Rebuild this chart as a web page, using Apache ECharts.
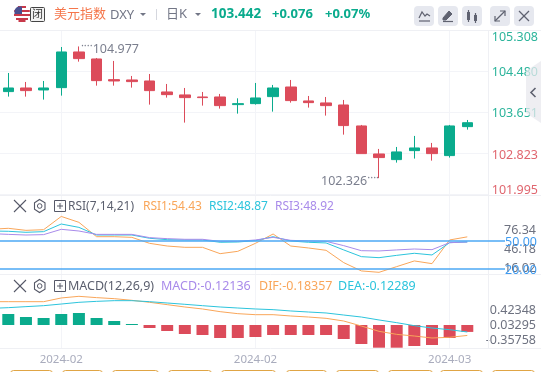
<!DOCTYPE html>
<html><head><meta charset="utf-8">
<style>html,body{margin:0;padding:0;background:#fff}#c{width:541px;height:372px}</style>
<script src="https://cdn.jsdelivr.net/npm/echarts@6/dist/echarts.min.js"></script>
</head><body><div id="c"></div>
<script>
const FONT='"Noto Sans","Noto Sans CJK SC",sans-serif';
const candleX=[0,1,2,3,4,5,6,7,8,9,10,11,12,13,14,15,16,17,18,19,20,21,22,23,24,25,26];
const open=[104.068,104.141,104.101,104.148,104.866,104.725,104.309,104.302,104.282,104.061,104.001,103.960,103.960,103.806,103.826,103.967,104.161,103.880,103.840,103.799,103.377,102.813,102.699,102.880,102.934,102.780,103.363];
const close=[104.141,104.088,104.141,104.866,104.732,104.289,104.282,104.269,104.088,104.007,103.947,103.947,103.786,103.826,103.940,104.141,103.887,103.846,103.786,103.384,102.820,102.740,102.854,102.934,102.820,103.377,103.442];
const low=[103.967,103.967,103.907,103.987,104.671,104.188,104.188,104.148,103.806,103.947,103.444,103.786,103.726,103.625,103.806,103.665,103.846,103.746,103.585,103.202,102.820,102.326,102.639,102.720,102.679,102.740,103.303];
const high=[104.443,104.262,104.282,104.966,104.977,104.745,104.685,104.383,104.423,104.222,104.141,104.061,104.021,103.933,104.242,104.202,104.302,103.980,103.960,103.900,103.397,102.914,102.954,103.176,103.035,103.397,103.497];
const priceTicks=[101.995,102.823,103.651,104.480,105.308];
const dateTickIdx=[3,14,25];
const dateTickLabels=['2024-02','2024-02','2024-03'];
// line arrays start one session before the first visible candle
const lineX=[-1,0,1,2,3,4,5,6,7,8,9,10,11,12,13,14,15,16,17,18,19,20,21,22,23,24,25,26];
const rsi1=[62.5,63.6,61.4,62.1,76.3,70.0,54.6,54.6,53.9,47.5,44.6,43.2,43.2,36.4,38.9,47.5,57.5,44.6,42.5,40.0,26.8,17.9,16.4,22.5,28.6,25.7,51.1,54.43];
const rsi2=[60.7,60.4,59.3,60.0,68.2,64.6,56.4,56.4,56.4,52.9,51.4,51.1,51.1,48.6,48.9,50.4,54.6,50,48.6,47.9,40.4,33.2,32.1,34.6,36.8,35,48.2,48.87];
const rsi3=[57.9,57.1,56.4,56.8,62.5,60.7,57.1,57.1,57.1,53.6,52.5,51.8,51.8,49.6,49.6,51.1,53.9,50.7,50,49.6,45,39.6,39.3,40.4,41.4,40.7,48.2,48.92];
const rsiLevels=[50,20];
const rsiTicks=[76.34,46.18,16.02];
const macdBar=[.193,.140,.123,.193,.211,.123,.070,.018,-.053,-.105,-.158,-.175,-.228,-.228,-.211,-.175,-.175,-.175,-.175,-.246,-.333,-.398,-.398,-.368,-.351,-.228,-.12136];
const dif=[.409,.409,.409,.409,.474,.503,.480,.462,.433,.398,.357,.316,.281,.234,.199,.181,.181,.158,.140,.117,.070,-.018,-.111,-.164,-.193,-.228,-.216,-.18357];
const dea=[.292,.304,.322,.339,.368,.398,.415,.427,.427,.409,.386,.363,.339,.316,.298,.281,.269,.246,.228,.211,.175,.140,.088,.041,-.012,-.053,-.082,-.12289];
const macdTicks=[.42348,.03295,-.35758];

const UP='#0AAB8D',DOWN='#DC4B5A',ORANGE='#F9A65A',CYAN='#2CC4DC',PURPLE='#A98BEA',BLUE='#4DA8F5',GRID='#F3F4F8',GRAY='#6E7280',ICON='#5F6270';
const XMIN=-0.47,XMAX=27.173,prevClose=103.366;
const zip=(a,b)=>a.map((v,i)=>[v,b[i]]);

const xAxisFor=(gridIndex,showLabels)=>({type:'value',gridIndex,min:XMIN,max:XMAX,
  axisLine:{show:false},axisTick:{show:false,customValues:dateTickIdx},
  splitLine:{show:true,lineStyle:{color:GRID,width:1}},
  axisLabel:{show:showLabels,customValues:dateTickIdx,margin:6,color:'#A9ACBD',fontSize:11.5,fontFamily:FONT,
    formatter:v=>dateTickLabels[dateTickIdx.indexOf(v)]}});
const labelY=(gridIndex,min,max,ticks,digits)=>({type:'value',gridIndex,position:'right',min,max,
  axisLine:{show:false},axisTick:{show:false},splitLine:{show:false},
  axisLabel:{customValues:ticks,inside:false,margin:48,align:'right',color:GRAY,fontSize:12.5,fontFamily:FONT,formatter:v=>v.toFixed(digits)}});

const dotLabel=(pos,offset,fmt)=>({position:pos,distance:0,offset,formatter:fmt,color:'#7B7F8E',fontSize:12.5,fontFamily:FONT,
  rich:{d:{color:'#7B7F8E',fontSize:11,padding:[0,0,6,0],fontFamily:FONT}}});

const RSI_MIN=14.6,RSI_MAX=99.3,MACD_MIN=-.4035,MACD_MAX=.8947;
const option={
  animation:false,backgroundColor:'#fff',
  grid:[
    {left:0,width:488,top:30,height:164.6},
    {left:0,width:488,top:195,height:79},
    {left:0,width:488,top:274,height:74},
    {left:0,width:505,top:195,height:79},
    {left:0,width:488,top:31.6,height:164.6}
  ],
  xAxis:[xAxisFor(0,false),xAxisFor(1,false),xAxisFor(2,true),
    {type:'value',gridIndex:3,min:0,max:1,show:false},
    {type:'value',gridIndex:4,min:0,max:1,show:false}],
  yAxis:[
    {type:'value',gridIndex:0,position:'right',min:priceTicks[0],max:priceTicks[4],
     axisLine:{show:false},axisTick:{show:false,customValues:priceTicks},
     splitLine:{show:true,lineStyle:{color:GRID}},
     axisLabel:{show:false,customValues:priceTicks}},
    {type:'value',gridIndex:1,min:RSI_MIN,max:RSI_MAX,show:false},
    labelY(1,7.13,132.5,rsiTicks,2),
    {type:'value',gridIndex:2,min:MACD_MIN,max:MACD_MAX,show:false},
    labelY(2,-.5608,1.366,macdTicks,5),
    {type:'value',gridIndex:3,min:RSI_MIN,max:RSI_MAX,show:false},
    {type:'value',gridIndex:4,position:'right',min:priceTicks[0],max:priceTicks[4],
     axisLine:{show:false},axisTick:{show:false},splitLine:{show:false},
     axisLabel:{customValues:priceTicks,margin:4.5,fontSize:12.5,fontFamily:FONT,
       verticalAlignMinLabel:'bottom',verticalAlignMaxLabel:'top',
       color:v=>v>prevClose?'#2BB49B':'#E0666F',formatter:v=>v.toFixed(3)}}
  ],
  series:[
    {type:'candlestick',xAxisIndex:0,yAxisIndex:0,barWidth:11,
     encode:{x:0,y:[1,2,3,4]},
     data:candleX.map((x,i)=>[x,open[i],close[i],low[i],high[i]]),
     itemStyle:{color:UP,borderColor:UP,color0:DOWN,borderColor0:DOWN,borderWidth:1},
     markPoint:{symbol:'circle',symbolSize:0,silent:true,
       data:[
        {coord:[4,104.977],label:dotLabel('right',[2,2.5],'{d|····}104.977')},
        {coord:[21,102.326],label:dotLabel('left',[0,3],'102.326{d|····}')}
       ]}},
    ...[[rsi1,ORANGE],[rsi2,CYAN],[rsi3,PURPLE]].map(([d,c])=>({type:'line',xAxisIndex:1,yAxisIndex:1,data:zip(lineX,d),showSymbol:false,lineStyle:{color:c,width:1}})),
    {type:'line',xAxisIndex:3,yAxisIndex:5,data:[],silent:true,
     markLine:{symbol:'none',silent:true,animation:false,lineStyle:{color:BLUE,width:1.5,type:'solid'},
       label:{position:'end',distance:0,offset:[0,1.5],color:'#3F9BF0',fontSize:12.5,fontFamily:FONT,formatter:p=>Number(p.value).toFixed(2)},
       data:rsiLevels.map(v=>({yAxis:v}))}},
    {type:'bar',xAxisIndex:2,yAxisIndex:3,barWidth:12,data:candleX.map((x,i)=>({value:[x,macdBar[i]],itemStyle:{color:macdBar[i]>=0?UP:DOWN}}))},
    {type:'line',xAxisIndex:2,yAxisIndex:3,data:zip(lineX,dif),showSymbol:false,lineStyle:{color:ORANGE,width:1}},
    {type:'line',xAxisIndex:2,yAxisIndex:3,data:zip(lineX,dea),showSymbol:false,lineStyle:{color:CYAN,width:1}}
  ],
  graphic:buildChrome()
};

function buildChrome(){
  const g=[];
  const txt=(x,y,text,fill,size,weight)=>g.push({type:'text',x,y,z:50,silent:true,style:{text,fill,fontSize:size||12.5,fontWeight:weight||'normal',fontFamily:FONT,verticalAlign:'middle'}});
  const ln=(x1,y1,x2,y2,c,w)=>g.push({type:'line',z:1,silent:true,shape:{x1,y1,x2,y2},style:{stroke:c||GRID,lineWidth:w||1}});
  const ln2=(x1,y1,x2,y2,c,w)=>g.push({type:'line',z:51,silent:true,shape:{x1,y1,x2,y2},style:{stroke:c||ICON,lineWidth:w||1.2}});
  const rect=(x,y,w,h,r,fill,stroke,z)=>g.push({type:'rect',z:z||50,silent:true,shape:{x,y,width:w,height:h,r},style:{fill:fill||'transparent',stroke:stroke||null,lineWidth:1}});
  const poly=(points,fill,stroke,lw,closed)=>g.push({type:closed?'polygon':'polyline',z:52,silent:true,shape:{points},style:{fill:fill||'transparent',stroke:stroke||null,lineWidth:lw||1.2}});
  // frame
  [30.5,195.5,274.5,348.5].forEach(y=>ln(0,y,541,y,'#EFF0F4'));
  ln(488.5,30,488.5,348,'#EFF0F4');
  // flag
  [[7,4,'#C8394A'],[9,6.5,'#fff'],[11,7.8,'#C8394A'],[13,8,'#fff'],[15,8,'#C8394A'],[17,7.5,'#fff'],[19,6,'#C8394A'],[21,3.5,'#C8394A']].forEach(([y,hw,c])=>rect(22-hw,y-1,hw*2,2,0,c));
  g.push({type:'rect',z:51,silent:true,shape:{x:14.5,y:6.5,width:7.5,height:7.5,r:[5,0,0,0]},style:{fill:'#4A4F8F'}});
  // closed badge
  rect(30.5,7.5,14,14,1,'#F2F2F2','#444');
  txt(32,15,'闭','#333',11);
  txt(54,14,'美元指数','#F5764B',13);
  txt(110,15,'DXY','#727686',13);
  poly([[140,13],[146,13],[143,16]],'#727686',null,0,true);
  ln2(156.5,9,156.5,20,'#D5D7DE',1);
  txt(166,14,'日K','#727686',13);
  poly([[195,13],[201,13],[198,16]],'#727686',null,0,true);
  txt(211,14,'103.442',UP,13.5,'bold');
  txt(272,14,'+0.076',UP,13,'bold');
  txt(325,14,'+0.07%',UP,13,'bold');
  // toolbar
  [414,438,462,490,514].forEach(x=>rect(x,6,20,20,4,'#E6E8EF'));
  poly([[419,18],[422,12],[425,16],[427,14],[430,16]],null,ICON,1.2);
  ln2(419,21,430,21);
  poly([[443,18],[449,11],[452,14],[446,20],[443,20]],ICON,ICON,1,true);
  ln2(443,21.5,453,21.5);
  rect(467,12,3,8,0,ICON,null,52);ln2(468.5,10,468.5,22);
  rect(474,15,3,6,0,ICON,null,52);ln2(475.5,13,475.5,23);
  ln2(495,21,505,11);
  poly([[500,11],[505,11],[505,16]],null,ICON,1.2);
  poly([[495,16],[495,21],[500,21]],null,ICON,1.2);
  ln2(519,11,529,21);ln2(529,11,519,21);
  // side tab
  g.push({type:'polygon',z:60,silent:true,shape:{points:[[526,71],[541,61],[541,123],[526,113]]},style:{fill:'rgba(232,232,238,0.75)'}});
  g.push({type:'polyline',z:61,silent:true,shape:{points:[[535.5,88],[531,92.5],[535.5,97]]},style:{stroke:ICON,fill:'transparent',lineWidth:1.6}});
  // pane controls
  [206,286].forEach(y=>{
    ln2(14,y-6,26,y+6,'#555867',1.1);ln2(26,y-6,14,y+6,'#555867',1.1);
    poly([[39.5,y-6.5],[45,y-3.2],[45,y+3.2],[39.5,y+6.5],[34.5,y+3.2],[34.5,y-3.2]],null,'#555867',1.1,true);
    g.push({type:'circle',z:52,silent:true,shape:{cx:39.7,cy:y,r:2.3},style:{fill:'transparent',stroke:'#555867',lineWidth:1}});
    rect(54.5,y-5.5,11,11,0,null,'#555867',52);
    ln2(60,y-3,60,y+3,'#555867',1);ln2(57,y,63,y,'#555867',1);
  });
  txt(68,206.5,'RSI(7,14,21)','#5B5F6E',12);
  txt(143,206.5,'RSI1:54.43',ORANGE,12);
  txt(209,206.5,'RSI2:48.87',CYAN,12);
  txt(275,206.5,'RSI3:48.92',PURPLE,12);
  txt(68,286.5,'MACD(12,26,9)','#5B5F6E',12.5);
  txt(161,286.5,'MACD:-0.12136',PURPLE,12.5);
  txt(259,286.5,'DIF:-0.18357',ORANGE,12.5);
  txt(338,286.5,'DEA:-0.12289',CYAN,12.5);
  // bottom range buttons, cropped by the window
  [[10,42],[62,40],[112,46],[168,43],[221,54],[286,40],[336,42],[388,44],[440,42],[492,42]].forEach(([x,w])=>rect(x+.5,370.5,w,12,3,'#fff','#E0A545'));
  return g;
}
const chart=echarts.init(document.getElementById('c'),null,{renderer:'canvas'});
chart.setOption(option);
</script></body></html>
